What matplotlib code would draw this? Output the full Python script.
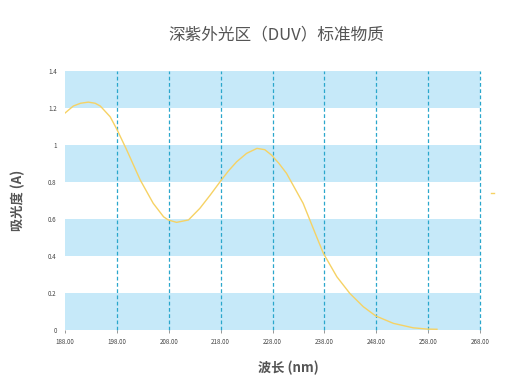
import matplotlib
matplotlib.use("Agg")
import matplotlib.pyplot as plt

plt.rcParams['font.family'] = ['Noto Sans CJK SC', 'DejaVu Sans']

# Data
wavelength = [188.0, 189.6, 191.0, 192.5, 193.8, 194.8, 196.7, 198.0, 199.9, 202.5,
              205.0, 207.0, 207.9, 209.5, 211.8, 214.0, 216.0, 217.9, 219.5, 221.1,
              223.0, 225.0, 226.5, 227.8, 229.2, 230.7, 233.9, 236.5, 237.8, 240.4,
              242.9, 245.5, 247.9, 251.3, 255.1, 257.8, 259.7]
absorbance = [1.173, 1.211, 1.226, 1.232, 1.226, 1.211, 1.153, 1.085, 0.973, 0.811,
              0.685, 0.612, 0.595, 0.582, 0.595, 0.658, 0.730, 0.802, 0.860, 0.910,
              0.955, 0.982, 0.975, 0.946, 0.902, 0.847, 0.685, 0.504, 0.415, 0.288,
              0.198, 0.126, 0.076, 0.036, 0.012, 0.005, 0.004]

x_ticks = [188, 198, 208, 218, 228, 238, 248, 258, 268]
y_ticks = [0, 0.2, 0.4, 0.6, 0.8, 1.0, 1.2, 1.4]
y_tick_labels = ["0", "0.2", "0.4", "0.6", "0.8", "1", "1.2", "1.4"]
bands = [(0, 0.2), (0.4, 0.6), (0.8, 1.0), (1.2, 1.4)]

title = "深紫外光区（DUV）标准物质"
x_label = "波长 (nm)"
y_label = "吸光度 (A)"

fig = plt.figure(figsize=(5.26, 3.9), dpi=100)
ax = fig.add_axes([0.1236, 0.1538, 0.789, 0.664])

for lo, hi in bands:
    ax.axhspan(lo, hi, color="#c6e9f9", lw=0, zorder=0)

for xt in x_ticks[1:]:
    ax.axvline(xt, color="#2aa7cc", lw=0.9, ls=(0, (3, 2)), zorder=1, clip_on=False)

line, = ax.plot(wavelength, absorbance, color="#f6d264", lw=1.0, zorder=3)

ax.set_xlim(188, 268)
ax.set_ylim(0, 1.4)
ax.set_xticks(x_ticks)
ax.set_xticklabels([f"{v:.2f}" for v in x_ticks])
ax.set_yticks(y_ticks)
ax.set_yticklabels(y_tick_labels)
ax.tick_params(axis="x", labelsize=4.5, colors="#888888", labelcolor="#444444",
               length=2.5, width=0.6, pad=3)
ax.tick_params(axis="y", labelsize=4.5, labelcolor="#444444", length=0, pad=6)
for s in ax.spines.values():
    s.set_visible(False)

fig.text(0.525, 0.91, title, ha="center", va="center", fontsize=12, color="#555555")
fig.text(0.548, 0.057, x_label, ha="center", va="center", fontsize=9.5, color="#555555",
         fontweight="bold")
fig.text(0.034, 0.487, y_label, ha="center", va="center", fontsize=9.5, color="#555555",
         fontweight="bold", rotation=90)

fig.legend([line], [""], loc="center", bbox_to_anchor=(0.937, 0.503), frameon=False,
           handlelength=0.4, fontsize=5, borderpad=0, handletextpad=0)

fig.savefig("out.png", dpi=100)
